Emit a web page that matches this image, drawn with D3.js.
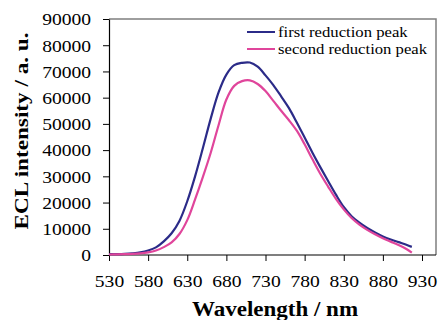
<!DOCTYPE html>
<html>
<head>
<meta charset="utf-8">
<script src="https://cdn.jsdelivr.net/npm/d3@7"></script>
<style>
  body { margin: 0; background: #fff; }
  svg { display: block; font-family: "Liberation Serif", "Times New Roman", serif; }
</style>
</head>
<body>
<div id="chart"></div>
<script>
const wavelengths = [530, 540, 550, 560, 570, 580, 590, 600, 610, 620, 630, 640, 650, 660, 670, 680, 690, 700, 710, 720,
  730, 740, 750, 760, 770, 780, 790, 800, 810, 820, 830, 840, 850, 860, 870, 880, 890, 900, 910, 917];
const firstPeak = [300, 350, 450, 650, 1000, 1700, 2900, 5200, 8300, 13000, 20500, 30000, 40800, 52000, 62000, 68800, 72400, 73300, 73400, 71800,
  68500, 64800, 60500, 56000, 50500, 44800, 39000, 33500, 28200, 23000, 18300, 14800, 12300, 10300, 8600, 7100, 5900, 4900, 3900, 3100];
const secondPeak = [200, 250, 300, 400, 600, 1000, 1700, 3000, 4800, 8000, 13300, 21200, 29800, 39000, 49500, 59300, 64500, 66300, 66600, 65200,
  62500, 58800, 55000, 51400, 47400, 42200, 36500, 31000, 26100, 21400, 17400, 14100, 11600, 9600, 7900, 6400, 5100, 3800, 2300, 900];
const xTicks = [530, 580, 630, 680, 730, 780, 830, 880, 930];
const yTicks = [0, 10000, 20000, 30000, 40000, 50000, 60000, 70000, 80000, 90000];
const seriesNames = ["first reduction peak", "second reduction peak"];
const seriesColors = ["#2b2b88", "#e0459b"];

const width = 438, height = 320;
const plotLeft = 109, plotTop = 19, plotBottom = 255, frameRight = 436;
const stretchX = 1.15;

const svg = d3.select("#chart").append("svg")
  .attr("width", width)
  .attr("height", height);

const x = d3.scaleLinear().domain([530, 930]).range([plotLeft, 422]);
const y = d3.scaleLinear().domain([0, 90000]).range([plotBottom, plotTop]);

// frame (top and right, grey)
svg.append("path")
  .attr("d", `M${plotLeft},${plotTop}H${frameRight}V${plotBottom}`)
  .attr("fill", "none")
  .attr("stroke", "#7f7f7f")
  .attr("stroke-width", 1.5);

// stretch text horizontally like the source image
function widen(sel) {
  sel.each(function() {
    const w = this.getComputedTextLength();
    d3.select(this).attr("textLength", w * stretchX).attr("lengthAdjust", "spacingAndGlyphs");
  });
}

const yAxis = svg.append("g")
  .attr("transform", `translate(${plotLeft},0)`)
  .call(d3.axisLeft(y).tickValues(yTicks).tickSize(6).tickSizeOuter(0).tickPadding(12).tickFormat(d3.format("d")));
yAxis.select(".domain").attr("stroke", "#000").attr("stroke-width", 1.2);
yAxis.selectAll(".tick line").attr("stroke", "#000");
yAxis.selectAll(".tick text")
  .attr("font-size", 17)
  .attr("font-family", "Liberation Serif")
  .attr("fill", "#000")
  .attr("dy", "0.34em")
  .call(widen);

const xAxis = svg.append("g")
  .attr("transform", `translate(0,${plotBottom})`)
  .call(d3.axisBottom(x).tickValues(xTicks).tickSize(6).tickSizeOuter(0).tickPadding(14).tickFormat(d3.format("d")));
xAxis.select(".domain").attr("d", `M${plotLeft},0H${frameRight}`).attr("stroke", "#000").attr("stroke-width", 1.2);
xAxis.selectAll(".tick line").attr("stroke", "#000");
xAxis.selectAll(".tick text")
  .attr("font-size", 17)
  .attr("font-family", "Liberation Serif")
  .attr("fill", "#000")
  .call(widen);

// axis titles
svg.append("text")
  .attr("x", 275)
  .attr("y", 316)
  .attr("text-anchor", "middle")
  .attr("font-size", 20)
  .attr("font-weight", "bold")
  .text("Wavelength / nm")
  .call(widen);

svg.append("text")
  .attr("transform", "translate(28,131) rotate(-90)")
  .attr("text-anchor", "middle")
  .attr("font-size", 19)
  .attr("font-weight", "bold")
  .attr("textLength", 197)
  .attr("lengthAdjust", "spacingAndGlyphs")
  .text("ECL intensity / a. u.");

// curves
const line = d3.line()
  .x((d, i) => x(wavelengths[i]))
  .y(d => y(d))
  .curve(d3.curveCatmullRom.alpha(0.5));

[firstPeak, secondPeak].forEach((s, i) => {
  svg.append("path")
    .datum(s)
    .attr("d", line)
    .attr("fill", "none")
    .attr("stroke", seriesColors[i])
    .attr("stroke-width", 2.2);
});

// legend
const legend = svg.append("g");
seriesNames.forEach((name, i) => {
  const ly = 32 + i * 17;
  legend.append("line")
    .attr("x1", 247).attr("x2", 275)
    .attr("y1", ly).attr("y2", ly)
    .attr("stroke", seriesColors[i])
    .attr("stroke-width", 2);
  legend.append("text")
    .attr("x", 278)
    .attr("y", ly)
    .attr("dy", "0.32em")
    .attr("font-size", 14.5)
    .attr("fill", "#000")
    .text(name)
    .call(widen);
});
</script>
</body>
</html>
